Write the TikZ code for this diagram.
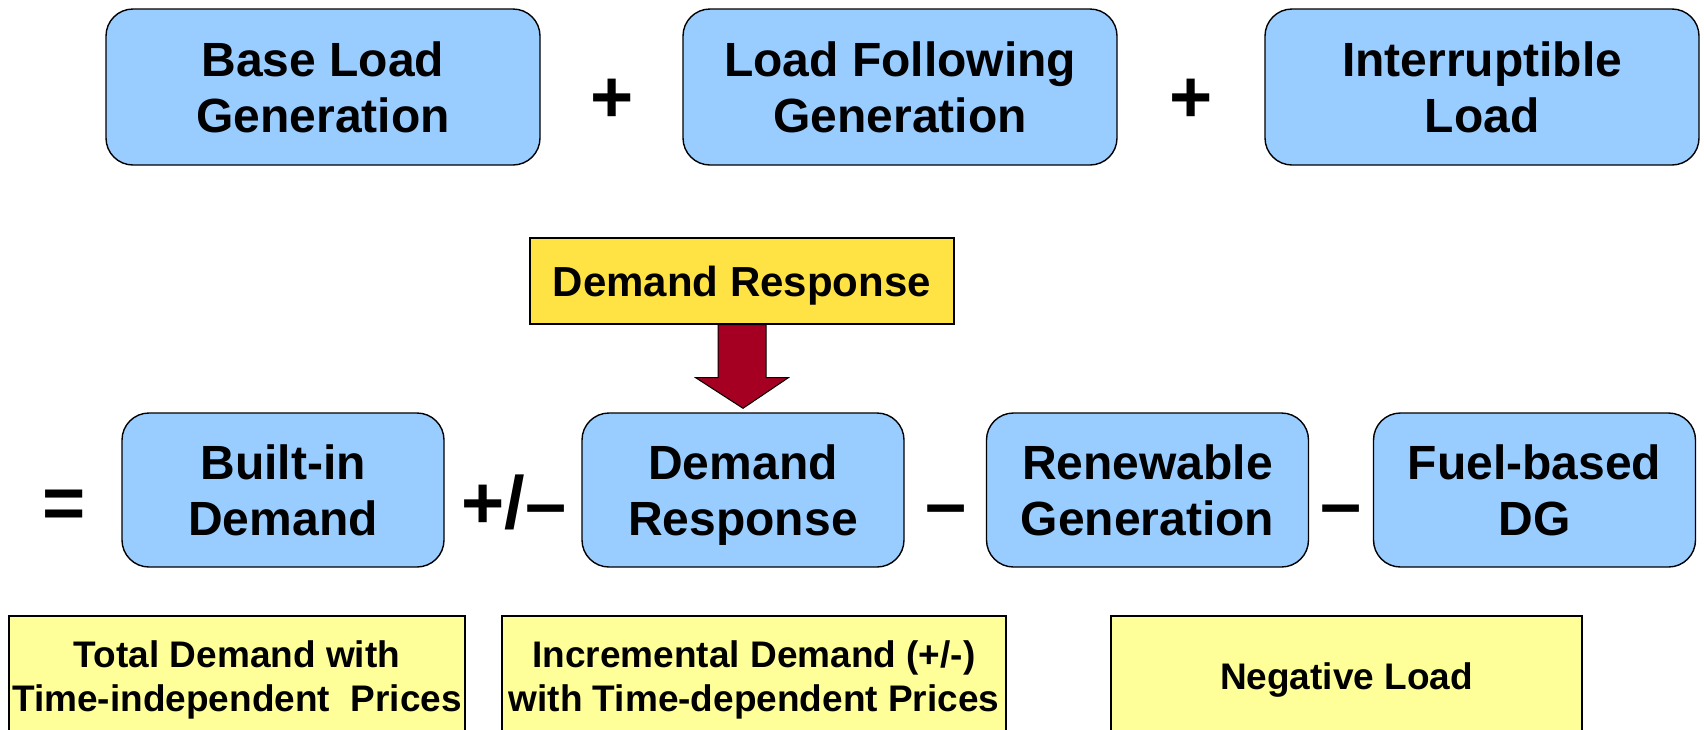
\documentclass[tikz,border=0pt]{standalone}
\usepackage{fontspec}
\setmainfont{Liberation Sans}
\usetikzlibrary{calc}
\definecolor{boxblue}{HTML}{99CCFF}
\definecolor{dryellow}{HTML}{FFE345}
\definecolor{noteyellow}{HTML}{FFFF99}
\definecolor{arrowred}{HTML}{A50021}
\begin{document}
\begin{tikzpicture}[x=1pt,y=-1pt,
  bluebox/.style={draw=black, line width=1.4pt, fill=boxblue, rounded corners=27pt,
    inner sep=0pt, align=center, text depth=0pt,
    font=\fontsize{48}{56.5}\selectfont\bfseries},
  topbox/.style={bluebox, minimum width=434pt, minimum height=156pt},
  rowbox/.style={bluebox, minimum width=322pt, minimum height=154pt, text depth=-3pt},
  drbox/.style={draw=black, line width=1.2pt, fill=dryellow, inner sep=0pt,
    minimum width=424pt, minimum height=86pt, text depth=-4pt,
    font=\fontsize{42}{48}\selectfont\bfseries},
  notebox/.style={draw=black, line width=1.2pt, fill=noteyellow, inner sep=0pt,
    minimum height=120pt, align=center, text depth=0pt,
    font=\fontsize{37}{43.5}\selectfont\bfseries},
  sym/.style={inner sep=0pt, anchor=base, font=\fontsize{74}{74}\selectfont\bfseries}]
\useasboundingbox (0,0) rectangle (1704,729);
\clip (0,0) rectangle (1704,729);
% top row
\node[topbox] (base) at (323,87) {Base Load\\Generation};
\node[topbox] (follow) at (900,87) {Load Following\\Generation};
\node[topbox] (intr) at (1482,87) {Interruptible\\Load};
\node[sym] (p1) at (612,122) {+};
\node[sym] (p2) at (1191,122) {+};
% demand response label
\node[drbox] (dry) at (742,281) {Demand Response};
% second row
\node[rowbox] (built) at (283,490) {Built-in\\Demand};
\node[rowbox] (drb) at (743,490) {Demand\\Response};
\node[rowbox] (renew) at (1147.5,490) {Renewable\\Generation};
\node[rowbox] (fuel) at (1534.5,490) {Fuel-based\\DG};
\node[sym] (eq) at (64,528) {=};
\node[sym] (pm) at (514,528) {+/\textendash};
\node[sym] (m1) at (946.5,528) {\textendash};
\node[sym] (m2) at (1341,528) {\textendash};
% block arrow
\draw[fill=arrowred, line width=1pt, line join=miter]
  ($(dry.south)+(-24,0)$) -- ++(0,53) -- ++(-22.5,0)
  -- ($(drb.north)+(0,-4)$)
  -- ($(dry.south)+(46.5,53)$) -- ++(-22.5,0)
  -- ($(dry.south)+(24,0)$) -- cycle;
% bottom notes
\node[notebox, minimum width=456pt] (n1) at (237,676) {Total Demand with\\Time-independent\ \ Prices};
\node[notebox, minimum width=504pt] (n2) at (754,676) {Incremental Demand (+/-)\\with Time-dependent Prices};
\node[notebox, minimum width=471pt] (n3) at (1346.5,676) {Negative Load};
\end{tikzpicture}
\end{document}
